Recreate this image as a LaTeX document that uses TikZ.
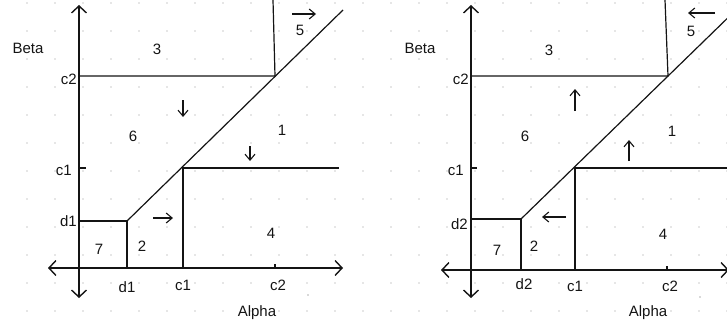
\documentclass[tikz,border=0pt]{standalone}
\usepackage{fontspec}
\setmainfont{Liberation Sans}
\usetikzlibrary{arrows.meta}
\definecolor{gridDot}{RGB}{205,205,205}
\definecolor{penLine}{RGB}{20,20,20}
\tikzset{
  axisline/.style={
    line width=1.4pt,
    draw=penLine,
    {Straight Barb[length=7pt,width=15pt]}-{Straight Barb[length=7pt,width=15pt]}
  },
  regionline/.style={
    line width=1.2pt,
    draw=penLine
  },
  movearrow/.style={
    line width=1.1pt,
    draw=penLine,
    -{Straight Barb[length=6pt,width=10pt]}
  },
  plainlabel/.style={
    inner sep=0pt,
    text=penLine,
    font=\fontsize{15}{17}\selectfont
  },
  axisname/.style={
    plainlabel,
    font=\fontsize{15}{17}\selectfont
  }
}

\begin{document}
\begin{tikzpicture}[x=1pt,y=-1pt]
  \useasboundingbox (0,0) rectangle (727,329);

  % dotted paper
  \foreach \gx in {0,...,26}
    \foreach \gy in {0,...,11}
      \fill[gridDot] ({-1+28*\gx},{3+28*\gy}) circle (0.8);

  % ---- left panel ----
  \coordinate (Laxl) at (48,268);
  \coordinate (Laxr) at (343,268);
  \coordinate (Laxt) at (79,5);
  \coordinate (Laxb) at (79,298);
  \coordinate (Lc2y) at (79,76);
  \coordinate (Lc2k) at (275,76);
  \coordinate (Lc2top) at (273,0);
  \coordinate (Ld1y) at (79,221);
  \coordinate (Ld1k) at (127,221);
  \coordinate (Ld1x) at (127,268);
  \coordinate (Lc1k) at (183,168);
  \coordinate (Lc1x) at (183,268);
  \coordinate (Lc1end) at (339,168);
  \coordinate (Ldiag) at (343,10);
  \coordinate (Lc1tick) at (86,168);
  \coordinate (Lc1ty) at (79,168);
  \coordinate (Lc2tx) at (275,268);
  \coordinate (Lc2tick) at (275,264);

  \draw[axisline] (Laxl) -- (Laxr);
  \draw[axisline] (Laxt) -- (Laxb);
  \draw[regionline] (Lc2y) -- (Lc2k) -- (Lc2top);
  \draw[regionline] (Ld1y) -- (Ld1k) -- (Ld1x);
  \draw[regionline] (Ld1k) -- (Ldiag);
  \draw[regionline] (Lc1x) -- (Lc1k) -- (Lc1end);
  \draw[regionline] (Lc1ty) -- (Lc1tick);
  \draw[regionline] (Lc2tx) -- (Lc2tick);

  \coordinate (La1s) at (292,14);  \coordinate (La1e) at (316,14);
  \coordinate (La2s) at (183,100); \coordinate (La2e) at (183,117);
  \coordinate (La3s) at (250,146); \coordinate (La3e) at (250,161);
  \coordinate (La4s) at (153,218); \coordinate (La4e) at (173,218);
  \draw[movearrow] (La1s) -- (La1e);
  \draw[movearrow] (La2s) -- (La2e);
  \draw[movearrow] (La3s) -- (La3e);
  \draw[movearrow] (La4s) -- (La4e);

  \node[axisname] (Lbeta) at (28,48) {Beta};
  \node[axisname] (Lalpha) at (257,313) {Alpha};
  \node[plainlabel, anchor=east] (Lyc2) at (77,79) {c2};
  \node[plainlabel, anchor=east] (Lyc1) at (72,170) {c1};
  \node[plainlabel, anchor=east] (Lyd1) at (77,221) {d1};
  \node[plainlabel] (Lxd1) at (127,287) {d1};
  \node[plainlabel] (Lxc1) at (183,285) {c1};
  \node[plainlabel] (Lxc2) at (278,285) {c2};
  \node[plainlabel] (Lr3) at (157,49) {3};
  \node[plainlabel] (Lr5) at (300,30) {5};
  \node[plainlabel] (Lr6) at (133,136) {6};
  \node[plainlabel] (Lr1) at (282,130) {1};
  \node[plainlabel] (Lr4) at (271,233) {4};
  \node[plainlabel] (Lr7) at (99,249) {7};
  \node[plainlabel] (Lr2) at (142,246) {2};
  \fill[penLine!70] (308,295) circle (0.7);

  % ---- right panel ----
  \coordinate (Raxl) at (441,270);
  \coordinate (Raxr) at (729,270);
  \coordinate (Raxt) at (471,5);
  \coordinate (Raxb) at (471,298);
  \coordinate (Rc2y) at (471,76);
  \coordinate (Rc2k) at (668,76);
  \coordinate (Rc2top) at (665,0);
  \coordinate (Rd2y) at (471,219);
  \coordinate (Rd2k) at (521,219);
  \coordinate (Rd2x) at (521,270);
  \coordinate (Rc1k) at (575,168);
  \coordinate (Rc1x) at (575,270);
  \coordinate (Rc1end) at (740,168);
  \coordinate (Rdiag) at (740,6);
  \coordinate (Rc1tick) at (477,168);
  \coordinate (Rc1ty) at (471,168);
  \coordinate (Rc2tx) at (667,270);
  \coordinate (Rc2tick) at (667,266);

  \draw[axisline] (Raxl) -- (Raxr);
  \draw[axisline] (Raxt) -- (Raxb);
  \draw[regionline] (Rc2y) -- (Rc2k) -- (Rc2top);
  \draw[regionline] (Rd2y) -- (Rd2k) -- (Rd2x);
  \draw[regionline] (Rd2k) -- (Rdiag);
  \draw[regionline] (Rc1x) -- (Rc1k) -- (Rc1end);
  \draw[regionline] (Rc1ty) -- (Rc1tick);
  \draw[regionline] (Rc2tx) -- (Rc2tick);

  \coordinate (Ra1s) at (715,13);  \coordinate (Ra1e) at (688,13);
  \coordinate (Ra2s) at (575,111); \coordinate (Ra2e) at (575,89);
  \coordinate (Ra3s) at (629,161); \coordinate (Ra3e) at (629,140);
  \coordinate (Ra4s) at (566,217); \coordinate (Ra4e) at (542,217);
  \draw[movearrow] (Ra1s) -- (Ra1e);
  \draw[movearrow] (Ra2s) -- (Ra2e);
  \draw[movearrow] (Ra3s) -- (Ra3e);
  \draw[movearrow] (Ra4s) -- (Ra4e);

  \node[axisname] (Rbeta) at (420,48) {Beta};
  \node[axisname] (Ralpha) at (648,313) {Alpha};
  \node[plainlabel, anchor=east] (Ryc2) at (469,79) {c2};
  \node[plainlabel, anchor=east] (Ryc1) at (464,170) {c1};
  \node[plainlabel, anchor=east] (Ryd2) at (468,224) {d2};
  \node[plainlabel] (Rxd2) at (524,284) {d2};
  \node[plainlabel] (Rxc1) at (575,286) {c1};
  \node[plainlabel] (Rxc2) at (670,286) {c2};
  \node[plainlabel] (Rr3) at (549,50) {3};
  \node[plainlabel] (Rr5) at (691,31) {5};
  \node[plainlabel] (Rr6) at (525,136) {6};
  \node[plainlabel] (Rr1) at (672,131) {1};
  \node[plainlabel] (Rr4) at (663,234) {4};
  \node[plainlabel] (Rr7) at (497,250) {7};
  \node[plainlabel] (Rr2) at (534,246) {2};
  \fill[penLine!70] (700,297) circle (0.7);
\end{tikzpicture}
\end{document}
